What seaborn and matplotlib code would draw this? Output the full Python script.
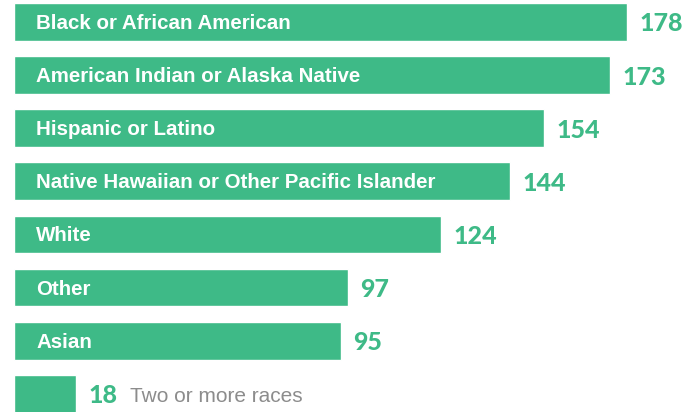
import numpy as np
import pandas as pd
import matplotlib.pyplot as plt
import seaborn as sns

races = [
    "Black or African American",
    "American Indian or Alaska Native",
    "Hispanic or Latino",
    "Native Hawaiian or Other Pacific Islander",
    "White",
    "Other",
    "Asian",
    "Two or more races",
]
values = [178, 173, 154, 144, 124, 97, 95, 18]

green = "#3EBA87"
df = pd.DataFrame({"race": races, "value": values})

sns.set_style("white")
fig = plt.figure(figsize=(6.99, 4.12), dpi=100)
ax = fig.add_axes([0, 0, 1, 1])

sns.barplot(data=df, x="value", y="race", orient="h", color=green,
            saturation=1, width=0.71, ax=ax)

ax.set_xlim(-4.07, 198.9)
ax.set_ylim(7.34, -0.41)
ax.axis("off")

# value labels, baseline placed so the digits sit centred on the bar
for i, v in enumerate(values):
    ax.text(v + 3.6, i + 0.18, str(v), color=green, fontsize=18,
            fontweight="black", family="Lato", va="baseline", ha="left")

# labels inside bars, last one goes outside in grey
for i, name in enumerate(races[:-1]):
    ax.text(6.4, i + 0.13, name, color="white", fontsize=14.8,
            fontweight="bold", family="Liberation Sans", va="baseline",
            ha="left")
ax.text(33.7, len(races) - 1 + 0.16, races[-1], color="#8c8c8c",
        fontsize=15, family="Liberation Sans", va="baseline", ha="left")

plt.savefig("out.png", dpi=100)
plt.close()
